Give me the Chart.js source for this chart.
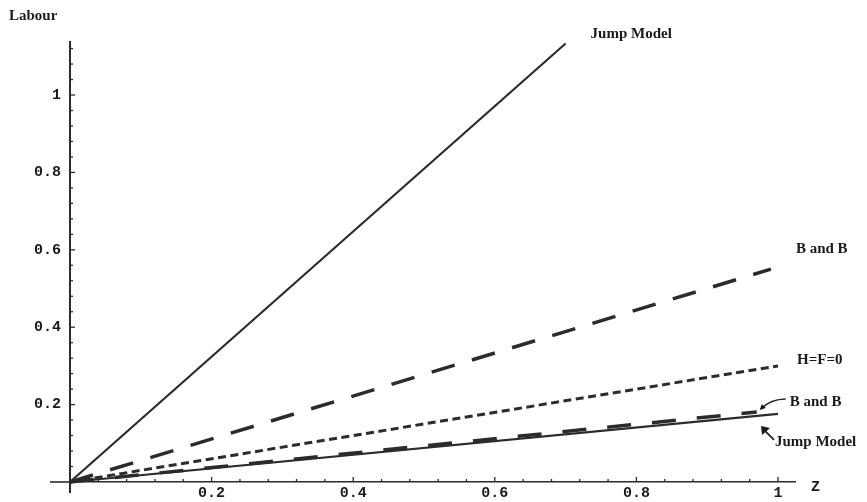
<!DOCTYPE html>
<html>
<head>
<meta charset="utf-8">
<script src="https://cdn.jsdelivr.net/npm/chart.js@4.4.0/dist/chart.umd.min.js"></script>
<style>
  html, body { margin: 0; padding: 0; background: #fff; }
  #wrap { width: 867px; height: 502px; }
</style>
</head>
<body>
<div id="wrap"><canvas id="labourChart"></canvas></div>
<script>
// Labour against z, one straight line per model
const seriesNames = ['Jump Model', 'B and B', 'H=F=0', 'B and B', 'Jump Model'];
const startZ = [0, 0, 0, 0, 0];
const startLabour = [0, 0, 0, 0, 0];
const endZ = [0.7, 0.99, 1, 0.97, 1];
const endLabour = [1.133, 0.55, 0.30, 0.181, 0.176];

const xTickValues = [0.2, 0.4, 0.6, 0.8, 1];
const xTickLabels = ['0.2', '0.4', '0.6', '0.8', '1'];
const yTickValues = [0.2, 0.4, 0.6, 0.8, 1];
const yTickLabels = ['0.2', '0.4', '0.6', '0.8', '1'];

const dashes = [[], [24, 18], [8, 4.5], [24, 21], []];
const widths = [2.2, 3.5, 3, 3.5, 2.2];
const ink = '#2b2b2b';

function labelFor(values, labels, v) {
    const i = values.findIndex(t => Math.abs(t - v) < 1e-6);
    return i >= 0 ? labels[i] : '';
}

const datasets = seriesNames.map((name, i) => ({
    label: name,
    data: [{ x: startZ[i], y: startLabour[i] }, { x: endZ[i], y: endLabour[i] }],
    borderColor: ink,
    borderWidth: widths[i],
    borderDash: dashes[i],
    borderCapStyle: 'butt',
    pointRadius: 0,
    fill: false,
    clip: false
}));

// inward tick marks, axis overhang, text labels and arrows
const decorations = {
    id: 'decorations',
    afterDraw(chart) {
        const c = chart.ctx;
        const xs = chart.scales.x, ys = chart.scales.y;
        const x0 = xs.getPixelForValue(0), y0 = ys.getPixelForValue(0);
        c.save();
        c.strokeStyle = ink;
        // axes run a little past the origin
        c.lineWidth = 1.6;
        c.beginPath(); c.moveTo(x0 - 20, y0); c.lineTo(x0, y0); c.stroke();
        c.lineWidth = 2;
        c.beginPath(); c.moveTo(x0, y0); c.lineTo(x0, y0 + 11); c.stroke();

        c.lineWidth = 1.3;
        ys.ticks.forEach(t => {
            if (t.value <= 0) return;
            const major = labelFor(yTickValues, yTickLabels, t.value) !== '';
            const p = ys.getPixelForValue(t.value);
            c.beginPath(); c.moveTo(x0, p); c.lineTo(x0 + (major ? 5 : 3), p); c.stroke();
        });
        xs.ticks.forEach(t => {
            if (t.value <= 0) return;
            const major = labelFor(xTickValues, xTickLabels, t.value) !== '';
            const p = xs.getPixelForValue(t.value);
            c.beginPath(); c.moveTo(p, y0); c.lineTo(p, y0 - (major ? 5 : 3)); c.stroke();
        });

        c.fillStyle = '#1a1a1a';
        c.font = 'bold 15px "Liberation Serif"';
        c.textBaseline = 'middle';
        c.textAlign = 'left';
        c.fillText('Labour', 9, 16);
        const ends = seriesNames.map((n, i) => ({
            x: xs.getPixelForValue(endZ[i]), y: ys.getPixelForValue(endLabour[i])
        }));
        c.fillText(seriesNames[0], ends[0].x + 25, ends[0].y - 9);
        c.fillText(seriesNames[1], ends[1].x + 25, ends[1].y - 20);
        c.fillText(seriesNames[2], ends[2].x + 19, ends[2].y - 6);
        c.fillText(seriesNames[3], ends[3].x + 33, ends[3].y - 10);
        c.fillText(seriesNames[4], ends[4].x - 3, ends[4].y + 28);

        c.font = 'bold 15px "Liberation Mono"';
        c.fillText('Z', 811, 487);

        // curved arrow to the lower B and B line
        c.lineWidth = 1.5;
        c.beginPath();
        c.moveTo(ends[3].x + 29, ends[3].y - 13);
        c.quadraticCurveTo(ends[3].x + 14, ends[3].y - 13, ends[3].x + 4, ends[3].y - 3);
        c.stroke();
        c.beginPath();
        c.moveTo(ends[3].x + 3, ends[3].y - 2);
        c.lineTo(ends[3].x + 5, ends[3].y - 8);
        c.lineTo(ends[3].x + 9, ends[3].y - 4);
        c.closePath();
        c.fill();

        // straight arrow to the lower Jump Model line
        const ax = ends[4].x, ay = ends[4].y;
        c.lineWidth = 2;
        c.beginPath();
        c.moveTo(ax - 4, ay + 26);
        c.lineTo(ax - 13, ay + 17);
        c.stroke();
        c.beginPath();
        c.moveTo(ax - 17, ay + 12);
        c.lineTo(ax - 16, ay + 21);
        c.lineTo(ax - 8, ay + 14);
        c.closePath();
        c.fill();
        c.restore();
    }
};

const tickFont = { family: '"Liberation Mono"', size: 15, weight: 'bold' };

const ctx = document.getElementById('labourChart').getContext('2d');
const labourChart = new Chart(ctx, {
    type: 'line',
    data: { datasets },
    options: {
        responsive: true,
        maintainAspectRatio: false,
        animation: false,
        layout: { padding: { left: 10, right: 72, top: 42, bottom: 0 } },
        plugins: {
            legend: { display: false },
            tooltip: { enabled: false }
        },
        scales: {
            x: {
                type: 'linear',
                position: 'bottom',
                min: 0,
                max: 1.024,
                afterFit: s => { s.height = 20; },
                grid: { display: false, drawTicks: false },
                border: { display: true, color: ink, width: 1.6 },
                ticks: {
                    stepSize: 0.04,
                    includeBounds: false,
                    autoSkip: false,
                    maxRotation: 0,
                    padding: 2,
                    color: '#1a1a1a',
                    font: tickFont,
                    callback: v => labelFor(xTickValues, xTickLabels, v)
                }
            },
            y: {
                type: 'linear',
                position: 'left',
                min: 0,
                max: 1.137,
                afterFit: s => { s.width = 60; },
                grid: { display: false, drawTicks: false },
                border: { display: true, color: ink, width: 2 },
                ticks: {
                    stepSize: 0.04,
                    includeBounds: false,
                    autoSkip: false,
                    padding: 9,
                    color: '#1a1a1a',
                    font: tickFont,
                    callback: v => labelFor(yTickValues, yTickLabels, v)
                }
            }
        }
    },
    plugins: [decorations]
});
</script>
</body>
</html>
